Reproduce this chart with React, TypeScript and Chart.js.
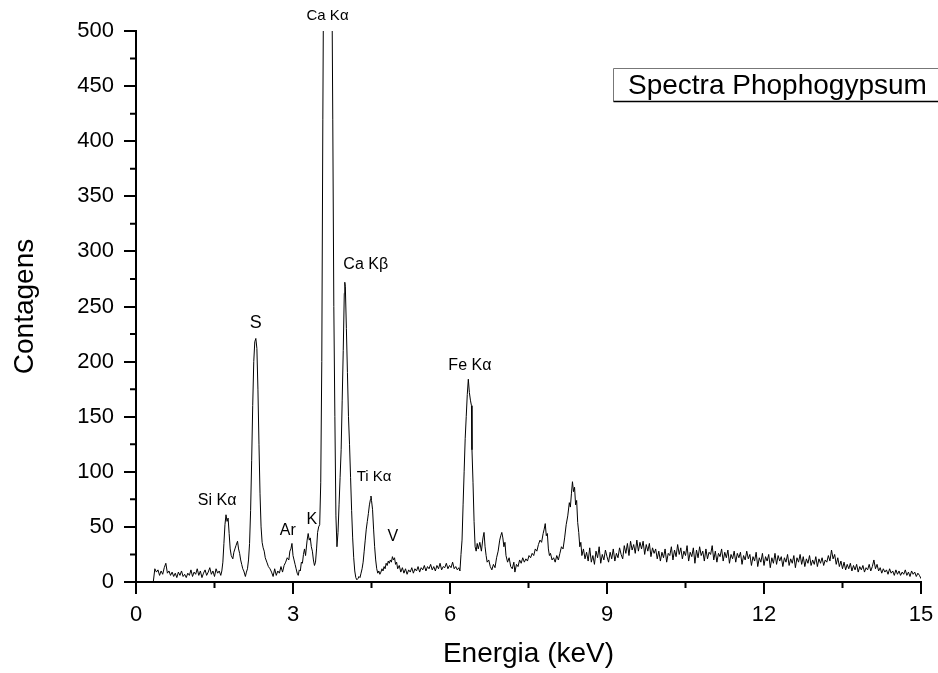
import { useEffect, useRef } from 'react';
import { Chart, registerables } from 'chart.js';

Chart.register(...registerables);

// [energy keV, counts]
const lowEnergy: [number, number][] = [
  [0.33, 0], [0.36, 12], [0.39, 9], [0.42, 11], [0.45, 6], [0.48, 10], [0.51, 7], [0.54, 13], [0.57, 17],
  [0.6, 8], [0.63, 10], [0.66, 6], [0.69, 9], [0.72, 5], [0.75, 8], [0.78, 4], [0.81, 9], [0.84, 6],
  [0.87, 10], [0.9, 5], [0.93, 7], [0.96, 4], [0.99, 8], [1.02, 6], [1.05, 11], [1.08, 5], [1.11, 9],
  [1.14, 7], [1.17, 12], [1.2, 6], [1.23, 10], [1.26, 4], [1.29, 8], [1.32, 11], [1.35, 6], [1.38, 9],
  [1.41, 13], [1.44, 7], [1.47, 10], [1.5, 5], [1.53, 12], [1.56, 8], [1.59, 10], [1.62, 6],
];

const siAndS: [number, number][] = [
  [1.64, 10], [1.66, 18], [1.68, 35], [1.7, 52], [1.72, 61], [1.74, 55], [1.76, 58], [1.78, 44], [1.8, 30],
  [1.82, 24], [1.85, 21], [1.87, 27], [1.89, 30], [1.91, 33], [1.94, 37], [1.96, 30], [1.98, 26], [2.0, 20],
  [2.02, 16], [2.04, 12], [2.06, 10], [2.09, 5], [2.11, 9], [2.13, 12], [2.15, 20], [2.17, 35], [2.19, 65],
  [2.21, 110], [2.23, 160], [2.25, 200], [2.27, 218], [2.29, 221], [2.31, 212], [2.33, 175], [2.35, 125],
  [2.37, 80], [2.39, 50], [2.41, 36], [2.43, 31], [2.45, 28], [2.47, 22], [2.5, 18], [2.53, 14], [2.56, 12],
  [2.59, 9], [2.62, 5], [2.65, 12], [2.68, 6], [2.71, 10], [2.74, 8], [2.77, 14], [2.8, 9], [2.83, 15],
];

const arKCa: [number, number][] = [
  [2.86, 18], [2.89, 22], [2.92, 20], [2.94, 28], [2.96, 30], [2.98, 35], [3.0, 24], [3.02, 20], [3.04, 16],
  [3.06, 12], [3.08, 8], [3.1, 6], [3.12, 11], [3.14, 10], [3.16, 18], [3.18, 17], [3.2, 25], [3.22, 30],
  [3.24, 24], [3.27, 38], [3.29, 44], [3.31, 38], [3.33, 40], [3.35, 32], [3.37, 28], [3.39, 20], [3.41, 15],
  [3.43, 18], [3.45, 30], [3.47, 45], [3.49, 50], [3.51, 52], [3.53, 90], [3.55, 200], [3.57, 420],
  [3.6, 700], [3.64, 950], [3.67, 1000], [3.7, 900], [3.73, 650], [3.76, 420], [3.78, 250], [3.8, 150],
  [3.82, 60], [3.84, 32], [3.86, 45], [3.88, 70], [3.9, 95], [3.92, 120], [3.94, 165], [3.96, 210],
  [3.98, 262], [3.99, 272], [4.0, 268], [4.02, 230], [4.04, 190], [4.06, 150], [4.08, 125], [4.1, 95],
  [4.12, 65], [4.14, 40], [4.16, 22], [4.18, 10], [4.2, 4], [4.22, 2], [4.24, 3], [4.26, 5], [4.28, 4],
];

const tiAndV: [number, number][] = [
  [4.3, 8], [4.32, 12], [4.34, 18], [4.36, 28], [4.38, 38], [4.4, 48], [4.42, 55], [4.44, 62], [4.46, 70],
  [4.48, 75], [4.49, 78], [4.5, 74], [4.52, 66], [4.54, 48], [4.56, 32], [4.58, 20], [4.6, 12], [4.62, 8],
  [4.64, 10], [4.66, 7], [4.68, 9], [4.7, 12], [4.72, 10], [4.74, 14], [4.76, 12], [4.78, 17], [4.8, 15],
  [4.82, 19], [4.84, 17], [4.86, 20], [4.88, 18], [4.9, 23], [4.92, 20], [4.94, 22], [4.96, 16], [4.98, 18],
  [5.0, 12], [5.03, 15], [5.06, 9], [5.09, 13], [5.12, 8], [5.15, 12], [5.18, 7], [5.21, 11], [5.24, 9],
  [5.27, 13], [5.3, 8], [5.33, 12], [5.36, 10], [5.39, 14], [5.42, 9], [5.45, 13], [5.48, 11], [5.51, 15],
  [5.54, 10], [5.57, 14], [5.6, 12], [5.63, 16], [5.66, 11], [5.69, 14], [5.72, 10], [5.75, 15], [5.78, 12],
  [5.81, 17], [5.84, 11], [5.87, 14], [5.9, 13], [5.93, 17], [5.96, 12], [5.99, 15], [6.02, 13], [6.05, 18],
  [6.08, 12], [6.11, 14], [6.14, 11], [6.17, 13], [6.19, 10],
];

const feRegion: [number, number][] = [
  [6.21, 25], [6.23, 38], [6.25, 70], [6.27, 100], [6.29, 130], [6.31, 150], [6.33, 170], [6.35, 184],
  [6.37, 172], [6.39, 165], [6.41, 160], [6.42, 120], [6.44, 90], [6.46, 55], [6.48, 32], [6.5, 28],
  [6.52, 35], [6.54, 30], [6.57, 36], [6.6, 28], [6.63, 40], [6.65, 45], [6.67, 32], [6.69, 24], [6.71, 18],
  [6.74, 20], [6.77, 14], [6.8, 11], [6.83, 16], [6.86, 13], [6.89, 22], [6.92, 28], [6.95, 38], [6.97, 42],
  [6.99, 45], [7.01, 40], [7.03, 32], [7.05, 36], [7.07, 24], [7.1, 18], [7.13, 22], [7.16, 14], [7.19, 12],
  [7.22, 18], [7.24, 9], [7.27, 16], [7.3, 14], [7.33, 20], [7.36, 17], [7.39, 22], [7.42, 18], [7.45, 21],
  [7.48, 19], [7.51, 24], [7.54, 22], [7.57, 26], [7.6, 24], [7.63, 30], [7.66, 28], [7.69, 34], [7.72, 38],
  [7.75, 36], [7.78, 44], [7.8, 48], [7.82, 53], [7.84, 42], [7.86, 44], [7.88, 30], [7.9, 24], [7.92, 26],
  [7.95, 20], [7.98, 22], [8.01, 18], [8.04, 24], [8.07, 20], [8.1, 26], [8.13, 32], [8.16, 30], [8.19, 40],
  [8.22, 52], [8.25, 60], [8.28, 72], [8.3, 68], [8.32, 80], [8.34, 91], [8.36, 82], [8.38, 86], [8.4, 70],
  [8.42, 74], [8.44, 54], [8.46, 45], [8.48, 32], [8.5, 36], [8.52, 24],
];

const tail: [number, number][] = [
  [8.55, 30], [8.58, 21], [8.61, 27], [8.64, 19], [8.67, 31], [8.7, 18], [8.73, 24], [8.76, 16], [8.79, 28],
  [8.82, 22], [8.85, 32], [8.88, 17], [8.91, 25], [8.94, 20], [8.97, 29], [9.0, 23], [9.03, 18], [9.06, 27],
  [9.09, 21], [9.12, 30], [9.15, 19], [9.18, 26], [9.21, 22], [9.24, 31], [9.27, 25], [9.3, 21], [9.33, 33],
  [9.36, 26], [9.39, 35], [9.42, 24], [9.45, 37], [9.48, 29], [9.51, 34], [9.54, 26], [9.57, 38], [9.6, 28],
  [9.63, 36], [9.66, 30], [9.69, 37], [9.72, 25], [9.75, 34], [9.78, 28], [9.81, 35], [9.84, 23], [9.87, 31],
  [9.9, 26], [9.93, 30], [9.96, 21], [9.99, 28], [10.02, 19], [10.05, 27], [10.08, 22], [10.11, 30],
  [10.14, 18], [10.17, 26], [10.2, 24], [10.23, 32], [10.26, 20], [10.29, 29], [10.32, 23], [10.35, 34],
  [10.38, 25], [10.41, 31], [10.44, 21], [10.47, 28], [10.5, 24], [10.53, 33], [10.56, 19], [10.59, 27],
  [10.62, 23], [10.65, 31], [10.68, 17], [10.71, 29], [10.74, 22], [10.77, 32], [10.8, 24], [10.83, 28],
  [10.86, 19], [10.89, 30], [10.92, 21], [10.95, 27], [10.98, 25], [11.01, 33], [11.04, 20], [11.07, 28],
  [11.1, 18], [11.13, 26], [11.16, 23], [11.19, 30], [11.22, 19], [11.25, 27], [11.28, 22], [11.31, 29],
  [11.34, 17], [11.37, 25], [11.4, 21], [11.43, 28], [11.46, 18], [11.49, 26], [11.52, 22], [11.55, 27],
  [11.58, 16], [11.61, 24], [11.64, 20], [11.67, 28], [11.7, 21], [11.73, 25], [11.76, 15], [11.79, 23],
  [11.82, 19], [11.85, 27], [11.88, 14], [11.91, 22], [11.94, 18], [11.97, 26], [12.0, 15], [12.03, 23],
  [12.06, 19], [12.09, 25], [12.12, 13], [12.15, 22], [12.18, 17], [12.21, 26], [12.24, 16], [12.27, 24],
  [12.3, 19], [12.33, 23], [12.36, 14], [12.39, 22], [12.42, 18], [12.45, 25], [12.48, 15], [12.51, 21],
  [12.54, 17], [12.57, 24], [12.6, 13], [12.63, 22], [12.66, 18], [12.69, 25], [12.72, 16], [12.75, 23],
  [12.78, 14], [12.81, 21], [12.84, 17], [12.87, 24], [12.9, 15], [12.93, 20], [12.96, 16], [12.99, 23],
  [13.02, 14], [13.05, 21], [13.08, 17], [13.11, 22], [13.14, 15], [13.17, 20], [13.2, 18], [13.23, 24],
  [13.26, 19], [13.29, 29], [13.32, 21], [13.35, 25], [13.38, 16], [13.41, 22], [13.44, 14], [13.47, 19],
  [13.5, 12], [13.53, 18], [13.56, 11], [13.59, 16], [13.62, 12], [13.65, 17], [13.68, 10], [13.71, 15],
  [13.74, 11], [13.77, 16], [13.8, 9], [13.83, 14], [13.86, 11], [13.89, 15], [13.92, 9], [13.95, 13],
  [13.98, 11], [14.01, 16], [14.04, 10], [14.07, 14], [14.1, 20], [14.13, 12], [14.16, 16], [14.19, 10],
  [14.22, 13], [14.25, 8], [14.28, 12], [14.31, 9], [14.34, 11], [14.37, 7], [14.4, 12], [14.43, 8],
  [14.46, 10], [14.49, 6], [14.52, 11], [14.55, 7], [14.58, 10], [14.61, 6], [14.64, 9], [14.67, 7],
  [14.7, 11], [14.73, 6], [14.76, 9], [14.79, 5], [14.82, 10], [14.85, 7], [14.88, 9], [14.91, 5],
  [14.94, 8], [14.97, 6], [15.0, 3],
];

const spectrum = [...lowEnergy, ...siAndS, ...arKCa, ...tiAndV, ...feRegion, ...tail];

// peak annotations: text, energy, counts (label anchor), font size
const peakNames = ['Ca K\u03b1', 'S', 'Ca K\u03b2', 'Si K\u03b1', 'Ar', 'K', 'Ti K\u03b1', 'V', 'Fe K\u03b1'];
const peakEnergy = [3.66, 2.29, 4.39, 1.55, 2.9, 3.36, 4.55, 4.91, 6.38];
const peakCounts = [514, 235, 288, 74, 47, 57, 95, 41, 196];
const peakFontSize = [15, 18, 16, 16, 16, 16, 15, 16, 16];

const xMinorTicks = [1.5, 4.5, 7.5, 10.5, 13.5];
const yMinorTicks = [25, 75, 125, 175, 225, 275, 325, 375, 425, 475];

const legendText = 'Spectra Phophogypsum';
const FONT = '"Liberation Sans", Arial, Helvetica, sans-serif';

const decorPlugin = {
  id: 'decor',
  afterDraw(chart: Chart) {
    const { ctx, chartArea } = chart;
    const xs = chart.scales.x;
    const ys = chart.scales.y;
    ctx.save();
    ctx.strokeStyle = '#000';
    ctx.lineWidth = 2;
    ctx.beginPath();
    xMinorTicks.forEach((v) => {
      const px = xs.getPixelForValue(v);
      ctx.moveTo(px, chartArea.bottom);
      ctx.lineTo(px, chartArea.bottom + 6);
    });
    yMinorTicks.forEach((v) => {
      const py = ys.getPixelForValue(v);
      ctx.moveTo(chartArea.left, py);
      ctx.lineTo(chartArea.left - 6, py);
    });
    ctx.stroke();

    ctx.fillStyle = '#000';
    ctx.textAlign = 'center';
    ctx.textBaseline = 'middle';
    peakNames.forEach((name, i) => {
      ctx.font = `${peakFontSize[i]}px ${FONT}`;
      ctx.fillText(name, xs.getPixelForValue(peakEnergy[i]), ys.getPixelForValue(peakCounts[i]));
    });

    // legend box, running off the right edge as in the source
    const bx = 613.5;
    const by = 68.5;
    const bw = 340;
    const bh = 33;
    ctx.lineWidth = 1;
    ctx.strokeStyle = '#777';
    ctx.beginPath();
    ctx.moveTo(bx, by + bh);
    ctx.lineTo(bx, by);
    ctx.lineTo(bx + bw, by);
    ctx.stroke();
    ctx.strokeStyle = '#000';
    ctx.lineWidth = 1.5;
    ctx.beginPath();
    ctx.moveTo(bx, by + bh);
    ctx.lineTo(bx + bw, by + bh);
    ctx.stroke();
    ctx.font = `28px ${FONT}`;
    ctx.textAlign = 'left';
    ctx.fillText(legendText, 628, by + bh / 2 + 1);
    ctx.restore();
  },
};

export default function App() {
  const canvasRef = useRef<HTMLCanvasElement>(null);
  const chartRef = useRef<Chart | null>(null);

  useEffect(() => {
    if (!canvasRef.current) return;
    if (chartRef.current) chartRef.current.destroy();

    chartRef.current = new Chart(canvasRef.current, {
      type: 'line',
      data: {
        datasets: [
          {
            label: legendText,
            data: spectrum.map(([x, y]) => ({ x, y })),
            borderColor: '#000',
            borderWidth: 1,
            pointRadius: 0,
            tension: 0,
            fill: false,
          },
        ],
      },
      options: {
        animation: false,
        responsive: false,
        events: [],
        layout: { padding: { top: 31, right: 17, left: 0, bottom: 0 } },
        plugins: {
          legend: { display: false },
          tooltip: { enabled: false },
        },
        scales: {
          x: {
            type: 'linear',
            min: 0,
            max: 15,
            ticks: {
              stepSize: 3,
              color: '#000',
              padding: 8,
              maxRotation: 0,
              font: { family: FONT, size: 22 },
            },
            grid: { drawOnChartArea: false, tickLength: 12, color: '#000', lineWidth: 2 },
            border: { color: '#000', width: 2 },
            title: {
              display: true,
              text: 'Energia (keV)',
              color: '#000',
              font: { family: FONT, size: 28 },
              padding: { top: 0, bottom: 2 },
            },
            afterFit: (scale) => {
              scale.height = 91;
              scale.paddingLeft = 0;
              scale.paddingRight = 0;
            },
          },
          y: {
            min: 0,
            max: 500,
            ticks: {
              stepSize: 50,
              color: '#000',
              padding: 10,
              font: { family: FONT, size: 22 },
            },
            grid: { drawOnChartArea: false, tickLength: 12, color: '#000', lineWidth: 2 },
            border: { color: '#000', width: 2 },
            title: {
              display: true,
              text: 'Contagens',
              color: '#000',
              font: { family: FONT, size: 28 },
              padding: { top: 8, bottom: 0 },
            },
            afterFit: (scale) => {
              scale.width = 136;
            },
          },
        },
      },
      plugins: [decorPlugin],
    });

    return () => {
      if (chartRef.current) {
        chartRef.current.destroy();
        chartRef.current = null;
      }
    };
  }, []);

  return (
    <div style={{ position: 'fixed', left: 0, top: 0, width: 938, height: 673, background: '#fff' }}>
      <canvas ref={canvasRef} width={938} height={673} />
    </div>
  );
}
